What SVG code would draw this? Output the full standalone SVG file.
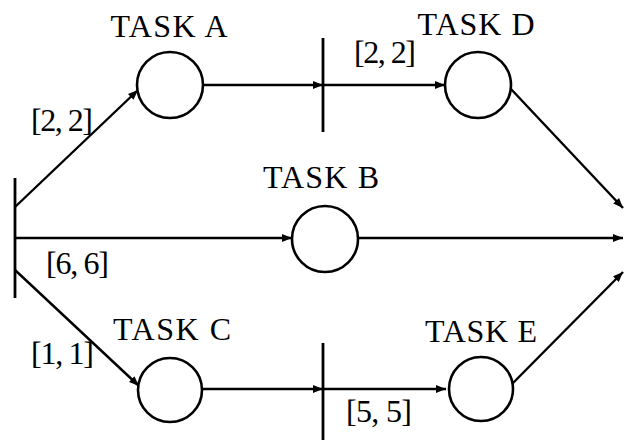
<svg xmlns="http://www.w3.org/2000/svg" width="626" height="446" viewBox="0 0 626 446">
  <defs>
    <marker id="arrow" viewBox="0 0 10 8" refX="10" refY="4" markerWidth="10" markerHeight="8" markerUnits="userSpaceOnUse" orient="auto">
      <path d="M0,0 L10,4 L0,8 z" fill="#000"/>
    </marker>
  </defs>
  <style>
    .place { fill: #fff; stroke: #000; stroke-width: 2.6; }
    .bar { stroke: #000; stroke-width: 2.8; fill: none; }
    .arc { stroke: #000; stroke-width: 2.4; fill: none; marker-end: url(#arrow); }
    .lbl { font-family: "Liberation Serif", "DejaVu Serif", serif; font-size: 32px; fill: #000; }
    .mid { text-anchor: middle; }
  </style>
  <rect width="626" height="446" fill="#fff"/>

  <!-- transitions -->
  <g id="t-start"><line class="bar" x1="15" y1="178" x2="15" y2="298"/></g>
  <g id="t-ad"><line class="bar" x1="323" y1="38" x2="323" y2="132"/></g>
  <g id="t-ce"><line class="bar" x1="323" y1="343" x2="323" y2="440"/></g>

  <!-- connectors -->
  <g id="arcs">
    <line class="arc" x1="15" y1="207" x2="138" y2="90"/>
    <line class="arc" x1="203" y1="85" x2="323" y2="85"/>
    <line class="arc" x1="323" y1="85" x2="445" y2="85"/>
    <line class="arc" x1="510" y1="88" x2="623" y2="208"/>
    <line class="arc" x1="15" y1="238" x2="292" y2="238"/>
    <line class="arc" x1="358" y1="238" x2="623" y2="238"/>
    <line class="arc" x1="15" y1="270" x2="139" y2="386"/>
    <line class="arc" x1="202" y1="389" x2="323" y2="389"/>
    <line class="arc" x1="323" y1="389" x2="446" y2="389"/>
    <line class="arc" x1="511" y1="385" x2="623" y2="272"/>
  </g>

  <!-- places -->
  <g id="task-a">
    <circle class="place" cx="170" cy="85" r="33"/>
    <text class="lbl mid" x="169" y="37" textLength="117">TASK A</text>
  </g>
  <g id="task-b">
    <circle class="place" cx="325" cy="239" r="33"/>
    <text class="lbl mid" x="321" y="188" textLength="116">TASK B</text>
  </g>
  <g id="task-c">
    <circle class="place" cx="170" cy="390" r="32"/>
    <text class="lbl mid" x="172" y="340" textLength="118">TASK C</text>
  </g>
  <g id="task-d">
    <circle class="place" cx="478" cy="85" r="33"/>
    <text class="lbl mid" x="476" y="35" textLength="117">TASK D</text>
  </g>
  <g id="task-e">
    <circle class="place" cx="481" cy="389" r="32"/>
    <text class="lbl mid" x="481" y="342" textLength="112">TASK E</text>
  </g>

  <!-- firing intervals -->
  <g id="intervals">
    <text class="lbl" x="31" y="131" textLength="62">[2, 2]</text>
    <text class="lbl" x="354" y="63" textLength="62">[2, 2]</text>
    <text class="lbl" x="46" y="274" textLength="63">[6, 6]</text>
    <text class="lbl" x="31" y="364" textLength="63">[1, 1]</text>
    <text class="lbl" x="346" y="422" textLength="66">[5, 5]</text>
  </g>
</svg>
